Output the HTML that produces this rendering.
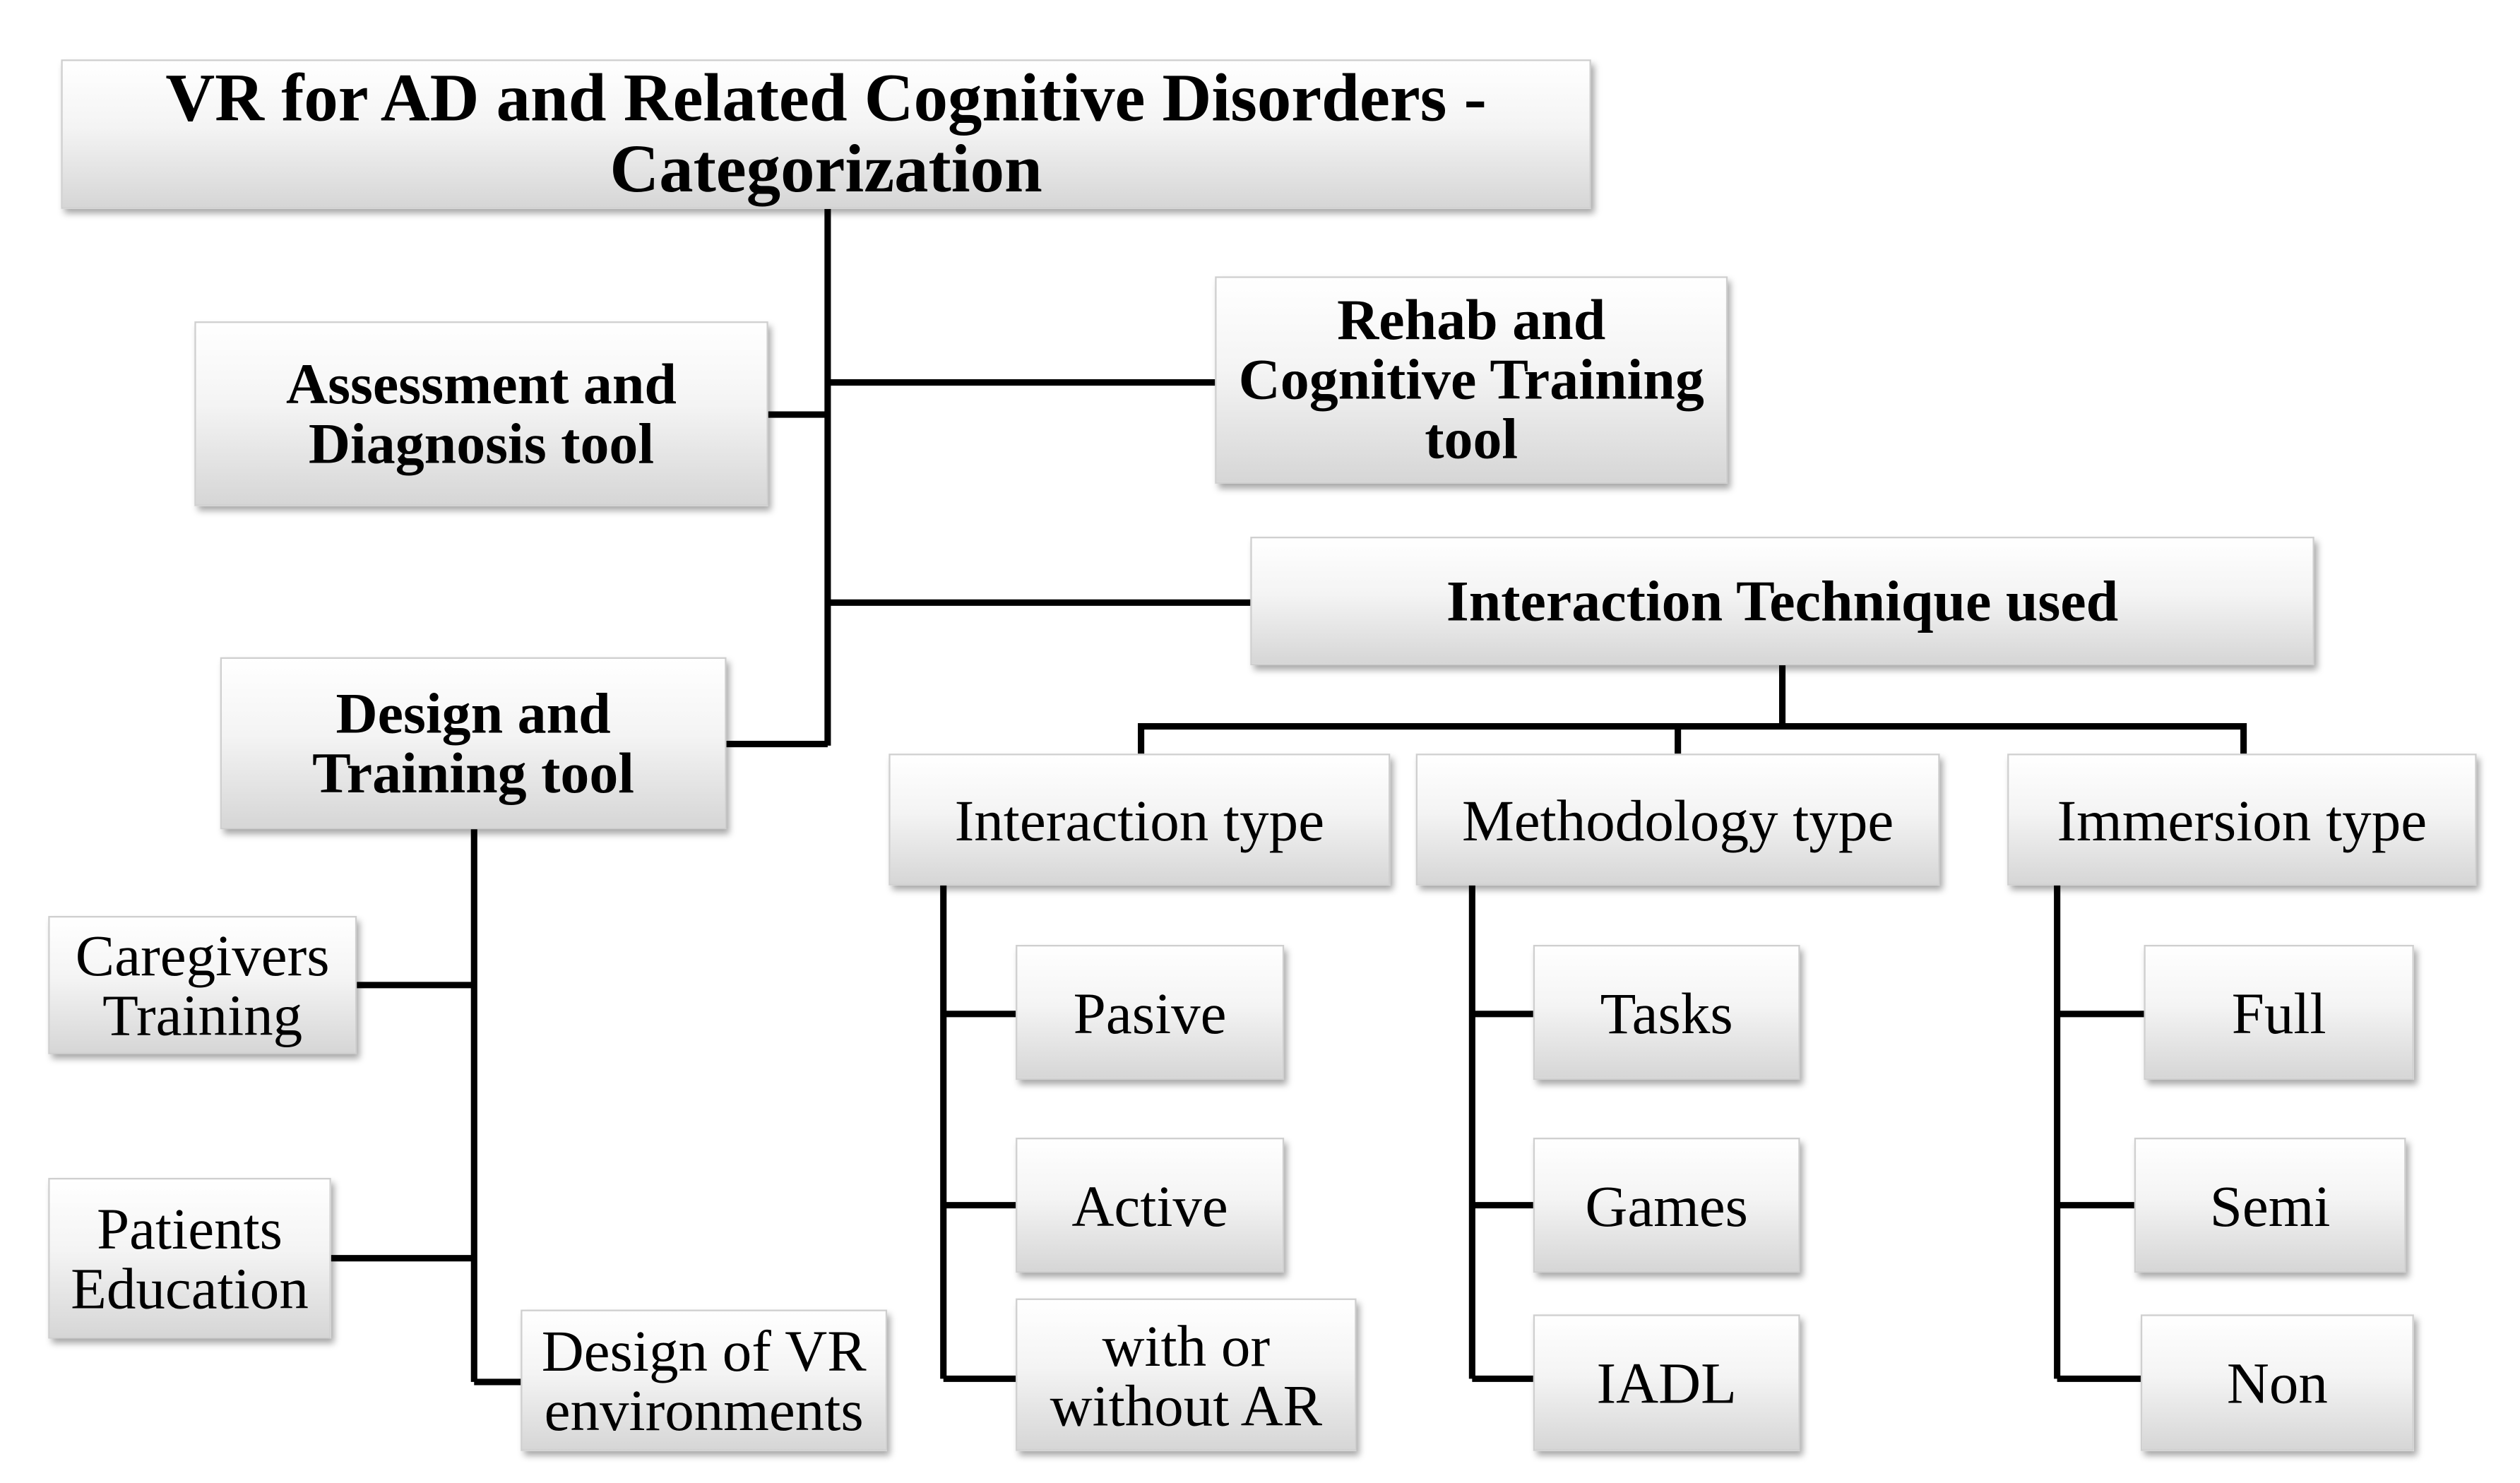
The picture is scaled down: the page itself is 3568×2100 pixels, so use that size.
<!DOCTYPE html>
<html><head><meta charset="utf-8"><style>
html,body{margin:0;padding:0;background:#fff;width:3568px;height:2100px;overflow:hidden}
#w{position:absolute;left:0;top:0;width:1568px;height:923px;transform:scale(2.2755);transform-origin:0 0}
.b{position:absolute;box-sizing:border-box;display:flex;align-items:center;justify-content:center;text-align:center;
background:linear-gradient(#ffffff 0%,#f4f4f4 45%,#d6d6d6 100%);border:1px solid #cfcfcf;
box-shadow:2px 3px 4px rgba(0,0,0,0.35);font-family:"Liberation Serif",serif;color:#000;line-height:37px;white-space:nowrap}
.k{font-weight:bold;font-size:36px}
.n{font-size:36.5px}
svg{position:absolute;left:0;top:0}
</style></head><body><div id="w">
<svg width="1568" height="923"><g stroke="#000" stroke-width="4" fill="none">
<path d="M515 130V464M478 258H515M515 238H756M515 375H778M452 463H515"/>
<path d="M295 516V860M222 613H295M206 783H295M295 860H324"/>
<path d="M1109 414V452M708 452H1398M710 452V469M1044 452V469M1396 452V469"/>
<path d="M587 551V858M587 631H632M587 750H632M587 858H632"/>
<path d="M916 551V858M916 631H954M916 750H954M916 858H954"/>
<path d="M1280 551V858M1280 631H1334M1280 750H1328M1280 858H1332"/>
</g></svg>
<div class="b k" style="left:38px;top:37px;width:952px;height:93px;font-size:42.5px;line-height:44px">VR for AD and Related Cognitive Disorders -<br>Categorization</div>
<div class="b k" style="left:121px;top:200px;width:357px;height:115px">Assessment and<br>Diagnosis tool</div>
<div class="b k" style="left:756px;top:172px;width:319px;height:129px">Rehab and<br>Cognitive Training<br>tool</div>
<div class="b k" style="left:778px;top:334px;width:662px;height:80px">Interaction Technique used</div>
<div class="b k" style="left:137px;top:409px;width:315px;height:107px">Design and<br>Training tool</div>
<div class="b n" style="left:553px;top:469px;width:312px;height:82px">Interaction type</div>
<div class="b n" style="left:881px;top:469px;width:326px;height:82px">Methodology type</div>
<div class="b n" style="left:1249px;top:469px;width:292px;height:82px">Immersion type</div>
<div class="b n" style="left:30px;top:570px;width:192px;height:86px">Caregivers<br>Training</div>
<div class="b n" style="left:30px;top:733px;width:176px;height:100px">Patients<br>Education</div>
<div class="b n" style="left:324px;top:815px;width:228px;height:88px">Design of VR<br>environments</div>
<div class="b n" style="left:632px;top:588px;width:167px;height:84px">Pasive</div>
<div class="b n" style="left:632px;top:708px;width:167px;height:84px">Active</div>
<div class="b n" style="left:632px;top:808px;width:212px;height:95px">with or<br>without AR</div>
<div class="b n" style="left:954px;top:588px;width:166px;height:84px">Tasks</div>
<div class="b n" style="left:954px;top:708px;width:166px;height:84px">Games</div>
<div class="b n" style="left:954px;top:818px;width:166px;height:85px">IADL</div>
<div class="b n" style="left:1334px;top:588px;width:168px;height:84px">Full</div>
<div class="b n" style="left:1328px;top:708px;width:169px;height:84px">Semi</div>
<div class="b n" style="left:1332px;top:818px;width:170px;height:85px">Non</div>
</div></body></html>
